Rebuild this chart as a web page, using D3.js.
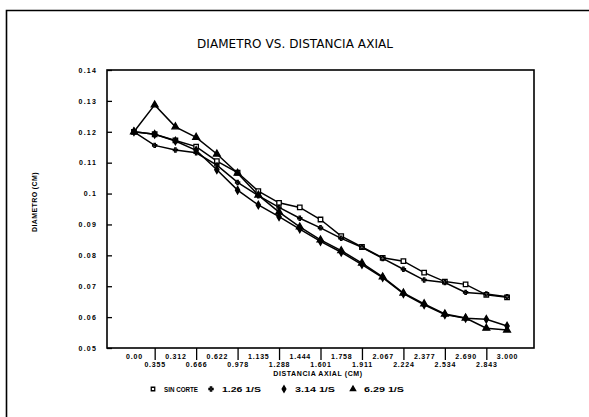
<!DOCTYPE html>
<html>
<head>
<meta charset="utf-8">
<script src="https://cdn.jsdelivr.net/npm/d3@7"></script>
<style>
  body { margin: 0; background: #fff; }
  svg { display: block; }
  .tick text { font-family: "Liberation Sans", Arial, sans-serif; font-weight: bold; }
</style>
</head>
<body>
<svg id="chart" width="589" height="417"></svg>
<script>
// categories (axial distance labels, in plotting order)
const distLabels = ["0.00", "0.355", "0.312", "0.666", "0.622", "0.978", "1.135", "1.288", "1.444",
    "1.601", "1.758", "1.911", "2.067", "2.224", "2.377", "2.534", "2.690", "2.843", "3.000"];
const yTicks = [0.05, 0.06, 0.07, 0.08, 0.09, 0.1, 0.11, 0.12, 0.13, 0.14];

// series values (diameter, cm)
const sinCorte = [0.120, 0.1192, 0.1172, 0.1152, 0.1105, 0.1068, 0.1008, 0.0970, 0.0955, 0.0916,
    0.0862, 0.0827, 0.0792, 0.0781, 0.0744, 0.0715, 0.0706, 0.0672, 0.0664];
const s126 = [0.120, 0.1156, 0.1141, 0.1132, 0.1092, 0.1036, 0.0993, 0.0955, 0.0920, 0.0889,
    0.0855, 0.0826, 0.0790, 0.0755, 0.0720, 0.0712, 0.0680, 0.0675, 0.0666];
const s314 = [0.120, 0.1192, 0.1170, 0.1140, 0.1077, 0.1011, 0.0963, 0.0925, 0.0885, 0.0845,
    0.0810, 0.0770, 0.0728, 0.0676, 0.0640, 0.0608, 0.0596, 0.0593, 0.0571];
const s629 = [0.120, 0.1287, 0.1216, 0.1182, 0.1128, 0.1066, 0.0995, 0.0940, 0.0892, 0.0850,
    0.0815, 0.0775, 0.0730, 0.0678, 0.0643, 0.0610, 0.0597, 0.0564, 0.0558];

const seriesNames = ["SIN CORTE", "1.26 1/S", "3.14 1/S", "6.29 1/S"];

const series = [
    { name: seriesNames[0], values: sinCorte, symbol: d3.symbolSquare, fill: "#fff", size: 20 },
    { name: seriesNames[1], values: s126, symbol: d3.symbolCross, fill: "#000", size: 10, plus: true },
    { name: seriesNames[2], values: s314, symbol: d3.symbolDiamond, fill: "#000", size: 16 },
    { name: seriesNames[3], values: s629, symbol: d3.symbolTriangle, fill: "#000", size: 20 }
];

const svg = d3.select("#chart");
const font = "'Liberation Sans', Arial, sans-serif";

// plot box
let margin = { top: 70, right: 55, bottom: 69, left: 107 };
let width = 589 - margin.left - margin.right;
let height = 417 - margin.top - margin.bottom;

// outer frame (left and top)
svg.append("path")
    .attr("d", "M6.5,417 V10.5 H589")
    .attr("fill", "none")
    .attr("stroke", "#000")
    .attr("stroke-width", 1.6);

// title
svg.append("text")
    .attr("x", 295)
    .attr("y", 48)
    .attr("text-anchor", "middle")
    .attr("font-family", "'DejaVu Sans', sans-serif")
    .attr("font-size", 12)
    .attr("textLength", 196)
    .attr("lengthAdjust", "spacing")
    .text("DIAMETRO VS. DISTANCIA AXIAL");

let x = d3.scalePoint().domain(distLabels).range([0, width]).padding(1.3);
let y = d3.scaleLinear().domain([0.05, 0.14]).range([height, 0]);

let g = svg.append("g").attr("transform", "translate(" + margin.left + "," + margin.top + ")");

g.append("rect")
    .attr("width", width)
    .attr("height", height)
    .attr("fill", "none")
    .attr("stroke", "#000")
    .attr("stroke-width", 1.6);

// y axis, ticks inside
let yAxis = g.append("g")
    .call(d3.axisLeft(y).tickValues(yTicks).tickSize(-5).tickPadding(10)
        .tickFormat(d => d === 0.1 ? "0.1" : d3.format(".2f")(d)));
yAxis.select(".domain").remove();
yAxis.selectAll(".tick line").attr("stroke-width", 1.3);
yAxis.selectAll(".tick text")
    .attr("font-size", 7)
    .attr("letter-spacing", 1.2);

// x labels: even categories on first row between dividers, odd ones below dividers
let evenLabels = distLabels.filter((d, i) => i % 2 === 0);
let oddLabels = distLabels.filter((d, i) => i % 2 === 1);

let xTop = g.append("g")
    .attr("transform", "translate(0," + height + ")")
    .call(d3.axisBottom(x).tickValues(evenLabels).tickSize(0).tickPadding(6));
xTop.select(".domain").remove();
xTop.selectAll(".tick text").attr("font-size", 7).attr("letter-spacing", 0.8);

let xBottom = g.append("g")
    .attr("transform", "translate(0," + height + ")")
    .call(d3.axisBottom(x).tickValues(oddLabels).tickSize(12).tickPadding(2));
xBottom.select(".domain").remove();
xBottom.selectAll(".tick line").attr("stroke-width", 1.3);
xBottom.selectAll(".tick text").attr("font-size", 7).attr("letter-spacing", 0.8);

// axis titles
svg.append("text")
    .attr("x", 318)
    .attr("y", 376)
    .attr("text-anchor", "middle")
    .attr("font-family", font)
    .attr("font-weight", "bold")
    .attr("font-size", 7)
    .attr("letter-spacing", 0.6)
    .text("DISTANCIA AXIAL (CM)");

svg.append("text")
    .attr("transform", "translate(37,202) rotate(-90)")
    .attr("text-anchor", "middle")
    .attr("font-family", font)
    .attr("font-weight", "bold")
    .attr("font-size", 7)
    .attr("letter-spacing", 0.4)
    .text("DIAMETRO (CM)");

// lines
let line = d3.line()
    .x((d, i) => x(distLabels[i]))
    .y(d => y(d));

series.forEach(s => {
    g.append("path")
        .datum(s.values)
        .attr("d", line)
        .attr("fill", "none")
        .attr("stroke", "#000")
        .attr("stroke-width", 1.5);
});

function drawMarker(sel, s, size) {
    sel.append("path")
        .attr("d", d3.symbol().type(s.symbol).size(size || s.size))
        .attr("fill", s.plus ? "none" : s.fill)
        .attr("stroke", "#000")
        .attr("stroke-width", s.plus ? 1.2 : 1.3);
}

series.forEach(s => {
    let pts = g.selectAll(null)
        .data(s.values)
        .enter()
        .append("g")
        .attr("transform", (d, i) => "translate(" + x(distLabels[i]) + "," + y(d) + ")");
    drawMarker(pts, s);
});

// legend
let legendX = [153, 211, 284, 353];
let legendLen = [34, 39, 40, 40];
let legend = svg.selectAll(".legend")
    .data(series)
    .enter()
    .append("g")
    .attr("class", "legend")
    .attr("transform", (d, i) => "translate(" + legendX[i] + ",389)");

legend.each(function (s) {
    drawMarker(d3.select(this), s, s.plus ? 10 : 12);
});

legend.append("text")
    .attr("x", 11)
    .attr("y", 2.5)
    .attr("font-family", font)
    .attr("font-weight", "bold")
    .attr("font-size", 7)
    .attr("textLength", (d, i) => legendLen[i])
    .attr("lengthAdjust", "spacingAndGlyphs")
    .text(d => d.name);
</script>
</body>
</html>
